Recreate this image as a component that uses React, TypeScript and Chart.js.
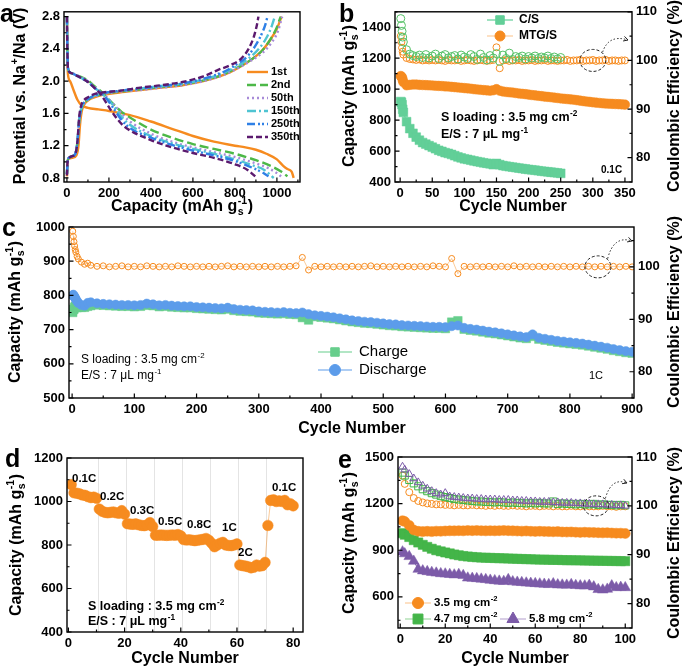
import React, { useEffect, useRef } from "react";
import { Chart, registerables } from "chart.js";
import { drawPoint } from "chart.js/helpers";

Chart.register(...registerables);
const FONT = '"Liberation Sans", Arial, Helvetica, sans-serif';
Chart.defaults.font.family = FONT;

const CW = 685;
const CH = 669;

function seq(a: number, b: number, s: number) {
  const r: number[] = [];
  for (let v = a; v <= b + 1e-9; v += s) r.push(v);
  return r;
}
const toXY = (xs: number[], ys: number[]) => xs.map((x, i) => ({ x, y: ys[i] }));

// ---------------- colours ----------------
const ORANGE = "#F68B1F";
const ORANGE_LINE = "rgba(246,139,31,0.45)";
const CS_GREEN = "#62CF98";
const CS_CE_GREEN = "#55C166";
const C_BLUE = "#5C9CEA";
const C_GREEN = "#67CE8C";
const E_GREEN = "#44B549";
const E_PURPLE = "#7C5BA8";

// ---------------- panel a : voltage profiles ----------------
const aXTicks = [0, 200, 400, 600, 800, 1000];
const aYTicks = [0.8, 1.2, 1.6, 2.0, 2.4, 2.8];
const aLabels = ["1st", "2nd", "50th", "150th", "250th", "350th"];
const aColors = ["#F68B1F", "#4DB848", "#A88BD8", "#4FC4D2", "#2F80E6", "#5B1A6E"];
const aDashes = [[], [9, 4], [2, 3], [9, 3, 2, 3], [8, 3, 2, 2, 2, 3], [6, 3]];

const dis1X = [0, 2, 5, 15, 30, 50, 70, 100, 150, 200, 300, 400, 500, 600, 700, 800, 850, 900, 950, 1000, 1030, 1050, 1070, 1080];
const dis1Y = [2.8, 2.3, 2.08, 2.0, 1.9, 1.77, 1.7, 1.67, 1.65, 1.63, 1.58, 1.5, 1.41, 1.32, 1.25, 1.2, 1.18, 1.15, 1.1, 1.03, 0.95, 0.91, 0.88, 0.8];
const dis2X = [0, 2, 5, 20, 60, 100, 130, 160, 190, 220, 260, 300, 400, 500, 600, 700, 800, 900, 970, 1020, 1050];
const dis2Y = [2.8, 2.4, 2.16, 2.1, 2.06, 2.01, 1.94, 1.88, 1.8, 1.72, 1.62, 1.55, 1.4, 1.3, 1.22, 1.16, 1.1, 1.02, 0.95, 0.88, 0.82];
const dis50X = [0, 2, 5, 20, 60, 100, 130, 160, 190, 220, 260, 300, 400, 500, 600, 700, 800, 900, 960, 1000, 1020];
const dis50Y = [2.8, 2.4, 2.16, 2.1, 2.06, 2.0, 1.93, 1.87, 1.8, 1.72, 1.6, 1.5, 1.35, 1.25, 1.18, 1.12, 1.06, 0.98, 0.92, 0.86, 0.82];
const dis150X = [0, 2, 5, 20, 60, 100, 130, 160, 190, 220, 260, 300, 400, 500, 600, 700, 800, 880, 940, 985];
const dis150Y = [2.8, 2.4, 2.16, 2.1, 2.05, 1.99, 1.92, 1.86, 1.79, 1.7, 1.56, 1.46, 1.32, 1.23, 1.16, 1.1, 1.03, 0.96, 0.9, 0.8];
const dis250X = [0, 2, 5, 20, 60, 100, 130, 160, 190, 220, 260, 300, 400, 500, 600, 700, 800, 880, 930, 960];
const dis250Y = [2.8, 2.4, 2.16, 2.1, 2.05, 1.99, 1.92, 1.86, 1.78, 1.67, 1.52, 1.42, 1.3, 1.21, 1.14, 1.08, 1.01, 0.93, 0.87, 0.82];
const dis350X = [0, 2, 5, 20, 60, 100, 130, 160, 190, 220, 260, 300, 400, 500, 600, 700, 800, 860, 905];
const dis350Y = [2.8, 2.4, 2.16, 2.1, 2.05, 1.99, 1.92, 1.84, 1.72, 1.6, 1.47, 1.39, 1.27, 1.18, 1.11, 1.05, 0.97, 0.9, 0.8];

const chg1X = [0, 3, 10, 25, 45, 55, 62, 70, 80, 100, 130, 170, 250, 350, 450, 550, 650, 750, 820, 880, 930, 970, 1000, 1022];
const chg1Y = [0.82, 1.0, 1.04, 1.05, 1.08, 1.2, 1.45, 1.62, 1.7, 1.76, 1.8, 1.83, 1.86, 1.89, 1.92, 1.95, 2.0, 2.08, 2.17, 2.27, 2.38, 2.52, 2.65, 2.8];
const chg2X = [0, 3, 10, 25, 40, 50, 58, 68, 80, 100, 130, 170, 250, 350, 450, 550, 650, 750, 820, 880, 930, 970, 1000, 1018];
const chg2Y = [0.85, 1.0, 1.05, 1.07, 1.1, 1.25, 1.5, 1.65, 1.72, 1.77, 1.81, 1.84, 1.87, 1.9, 1.93, 1.96, 2.01, 2.09, 2.18, 2.27, 2.38, 2.52, 2.67, 2.8];
const chg50X = [0, 3, 10, 25, 40, 50, 58, 68, 80, 100, 130, 170, 250, 350, 450, 550, 650, 750, 820, 880, 935, 975, 1005, 1025];
const chg50Y = [0.85, 1.0, 1.05, 1.07, 1.1, 1.25, 1.5, 1.65, 1.72, 1.77, 1.81, 1.84, 1.87, 1.89, 1.92, 1.95, 2.0, 2.08, 2.17, 2.26, 2.36, 2.48, 2.62, 2.8];
const chg150X = [0, 3, 10, 25, 40, 50, 58, 68, 80, 100, 130, 170, 250, 350, 450, 550, 650, 750, 820, 870, 920, 955, 975, 990];
const chg150Y = [0.85, 1.0, 1.05, 1.07, 1.1, 1.25, 1.5, 1.66, 1.73, 1.78, 1.82, 1.85, 1.88, 1.91, 1.94, 1.97, 2.02, 2.11, 2.2, 2.29, 2.42, 2.56, 2.68, 2.8];
const chg250X = [0, 3, 10, 25, 40, 50, 58, 68, 80, 100, 130, 170, 250, 350, 450, 550, 650, 750, 810, 860, 900, 930, 945, 955];
const chg250Y = [0.85, 1.0, 1.05, 1.07, 1.1, 1.25, 1.5, 1.66, 1.73, 1.78, 1.82, 1.85, 1.88, 1.91, 1.94, 1.97, 2.03, 2.12, 2.21, 2.31, 2.45, 2.6, 2.7, 2.8];
const chg350X = [0, 3, 10, 25, 40, 50, 58, 68, 80, 100, 130, 170, 250, 350, 450, 550, 650, 720, 780, 830, 865, 890, 905, 912];
const chg350Y = [0.83, 1.0, 1.05, 1.07, 1.1, 1.25, 1.55, 1.7, 1.76, 1.8, 1.84, 1.86, 1.88, 1.92, 1.95, 1.99, 2.06, 2.14, 2.2, 2.28, 2.4, 2.55, 2.7, 2.8];

// ---------------- panel b : 0.1C cycling ----------------
const bXTicks = [0, 50, 100, 150, 200, 250, 300, 350];
const bYTicks = [400, 600, 800, 1000, 1200, 1400];
const ceTicks = [80, 90, 100, 110];
const bCyclesMTG = [1, 2, 3, 4, ...seq(5, 350, 5)];
const bCyclesCS = [1, 2, 3, 4, ...seq(5, 250, 5)];
const bCapCS = [920, 915, 900, 870,
  850, 790, 745, 715, 690, 670, 655, 645, 635, 625,
  615, 605, 598, 590, 585, 578, 570, 562, 556, 550,
  546, 541, 536, 532, 528, 524, 521, 518, 512, 520,
  512, 506, 502, 499, 496, 493, 490, 487, 484, 481,
  479, 476, 473, 470, 468, 466, 463, 461, 459, 456];
const bCapMTG = [1085, 1080, 1075, 1060,
  1045, 1025, 1028, 1030, 1030, 1028, 1027, 1026, 1025, 1024,
  1022, 1021, 1020, 1018, 1017, 1015, 1013, 1011, 1009, 1007,
  1005, 1003, 1000, 998, 996, 994, 992, 990, 993, 1000,
  990, 985, 982, 980, 978, 975, 972, 970, 968, 965,
  962, 960, 957, 955, 952, 950, 948, 945, 943, 940,
  938, 936, 934, 932, 929, 926, 923, 920, 918, 915,
  913, 911, 909, 907, 906, 905, 904, 903, 902, 900];
const bCeCS = [108.6, 107.2, 106.0, 104.8,
  103.8, 102.2, 101.3, 101.0, 100.8, 101.1, 100.6, 101.2, 100.5, 100.9,
  101.3, 100.4, 100.9, 101.2, 100.5, 100.8, 101.0, 100.3, 101.1, 100.7,
  100.4, 101.2, 100.8, 100.2, 101.3, 100.6, 100.1, 101.0, 100.5, 101.4,
  99.8, 101.1, 100.4, 101.5, 100.2, 100.8, 100.6, 100.9, 100.3, 100.8,
  100.5, 100.9, 100.4, 100.7, 100.5, 100.9, 100.4, 100.7, 100.3, 100.6];
const bCeMTG = [105.0, 103.8, 102.6, 101.8,
  101.2, 100.5, 100.3, 100.2, 100.1, 100.2, 100.0, 100.1, 100.0, 100.1,
  100.0, 100.1, 100.0, 99.9, 100.1, 100.0, 100.0, 100.1, 99.9, 100.0,
  100.1, 100.0, 99.9, 100.0, 100.1, 100.0, 99.9, 100.0, 100.1, 102.7,
  98.4, 100.0, 100.1, 99.9, 100.0, 100.0, 100.1, 99.9, 100.0, 100.0,
  100.1, 99.9, 100.0, 100.0, 100.1, 99.9, 100.0, 100.0, 99.9, 100.0,
  100.0, 100.1, 99.9, 100.0, 100.0, 100.1, 99.9, 100.0, 100.0, 100.1,
  99.9, 100.0, 100.0, 100.1, 99.9, 100.0, 100.0, 99.9, 100.0, 100.0];

// ---------------- panel c : 1C long cycling ----------------
const cXTicks = [0, 100, 200, 300, 400, 500, 600, 700, 800, 900];
const cYTicks = [500, 600, 700, 800, 900, 1000];
const cCeTicks = [80, 90, 100];
const cCycles = [1, 2, 3, 4, 5, 6, 8, 10, 15, 20, 25, 30, ...seq(40, 900, 10)];
const cDischarge = [800, 802, 798, 795, 792, 788, 783, 778, 772, 770, 778, 780,
  777, 775, 774, 773, 772, 772, 771, 772, 776, 774,
  771, 772, 770, 769, 768, 768, 766, 765, 764, 763,
  762, 764, 760, 758, 757, 756, 753, 752, 751, 750,
  751, 749, 748, 750, 745, 742, 740, 738, 736, 733,
  730, 727, 725, 723, 722, 720, 718, 716, 715, 713,
  712, 711, 710, 709, 708, 708, 707, 710, 712, 705,
  702, 700, 697, 694, 692, 689, 686, 683, 680, 678,
  686, 676, 673, 670, 667, 665, 663, 661, 659, 656,
  653, 650, 647, 643, 640, 637, 635];
const cCharge = [750, 758, 760, 765, 768, 766, 764, 766, 765, 765, 768, 770,
  772, 771, 770, 769, 768, 768, 767, 768, 771, 770,
  767, 768, 766, 765, 764, 764, 762, 761, 760, 759,
  758, 760, 756, 754, 753, 752, 749, 748, 747, 746,
  747, 745, 744, 735, 728, 738, 736, 734, 732, 729,
  726, 723, 721, 719, 718, 716, 714, 712, 711, 709,
  708, 707, 706, 705, 704, 704, 703, 722, 726, 701,
  698, 696, 693, 690, 688, 685, 682, 679, 676, 674,
  680, 672, 669, 666, 663, 661, 659, 657, 655, 652,
  649, 646, 643, 639, 636, 633, 631];
const cCe = [106.8, 105.8, 104.8, 104.0, 103.3, 102.8, 102.0, 101.5, 100.9, 100.5, 100.7, 100.3,
  100.1, 100.2, 100.0, 100.1, 100.2, 100.0, 100.1, 100.0, 100.2, 100.1,
  100.0, 100.1, 100.0, 100.2, 100.1, 100.0, 100.1, 100.0, 100.1, 100.0,
  100.1, 100.2, 100.0, 100.1, 100.0, 100.1, 100.0, 100.1, 100.0, 100.1,
  100.0, 100.1, 100.2, 101.8, 99.4, 100.1, 100.0, 100.1, 100.0, 100.1,
  100.0, 100.1, 100.0, 100.1, 100.2, 100.0, 100.1, 100.0, 100.1, 100.0,
  100.1, 100.0, 100.1, 100.0, 100.2, 100.1, 100.0, 101.6, 98.7, 100.1,
  100.0, 100.1, 100.0, 100.1, 100.0, 100.1, 100.0, 100.2, 100.0, 100.1,
  100.0, 100.1, 100.0, 100.1, 100.0, 100.1, 100.0, 100.1, 100.0, 100.1,
  100.0, 100.1, 100.0, 100.1, 100.0, 100.1, 100.0];

// ---------------- panel d : rate capability ----------------
const dXTicks = [0, 20, 40, 60, 80];
const dYTicks = [400, 600, 800, 1000, 1200];
const dCycles = seq(1, 80, 1);
const dCap = [1078, 1040, 1038, 1035, 1030, 1028, 1022, 1018, 1020, 1015,
  965, 955, 950, 948, 950, 952, 948, 946, 958, 942,
  898, 896, 895, 897, 893, 890, 889, 892, 903, 885,
  845, 845, 846, 845, 844, 845, 846, 845, 848, 842,
  825, 823, 824, 822, 820, 822, 824, 826, 830, 822,
  808, 792, 800, 808, 812, 800, 798, 797, 800, 805,
  708, 705, 703, 700, 695, 698, 708, 703, 705, 720,
  890, 1005, 1008, 1000, 1003, 1000, 1005, 985, 990, 980];
const dRates = ["0.1C", "0.2C", "0.3C", "0.5C", "0.8C", "1C", "2C", "0.1C"];
const dDividers = [10.5, 20.5, 30.5, 40.5, 50.5, 60.5, 70.5];

// ---------------- panel e : sulfur loading ----------------
const eXTicks = [0, 20, 40, 60, 80, 100];
const eYTicks = [600, 900, 1200, 1500];
const eCycles = [1, 2, ...seq(4, 100, 2)];
const eLoadings = ["3.5 mg cm", "4.7 mg cm", "5.8 mg cm"];
const eCap35 = [1090, 1085, 1060, 1030, 1022, 1020, 1022, 1020, 1023, 1022,
  1024, 1025, 1025, 1026, 1025, 1027, 1026, 1027, 1026, 1025,
  1026, 1025, 1026, 1027, 1026, 1025, 1024, 1023, 1024, 1022,
  1021, 1022, 1021, 1020, 1019, 1020, 1018, 1017, 1018, 1016,
  1015, 1016, 1015, 1014, 1013, 1012, 1013, 1011, 1010, 1010, 1008];
const eCap47 = [1010, 1000, 985, 965, 950, 935, 922, 910, 900, 893,
  886, 880, 873, 868, 863, 860, 857, 855, 853, 852,
  851, 850, 849, 848, 847, 846, 845, 844, 843, 842,
  841, 840, 840, 839, 838, 838, 837, 836, 836, 835,
  835, 834, 834, 833, 833, 832, 832, 831, 831, 830, 830];
const eCap58 = [890, 878, 860, 830, 778, 768, 763, 758, 754, 750,
  748, 745, 742, 745, 738, 722, 720, 718, 715, 712,
  708, 705, 702, 700, 712, 698, 695, 693, 690, 688,
  686, 684, 682, 680, 685, 678, 677, 676, 680, 674,
  672, 671, 675, 665, 648, 645, 650, 672, 660, 662, 660];
const eCe35 = [106.2, 104.5, 102.8, 101.6, 101.0, 100.7, 100.5, 100.4, 100.3, 100.3,
  100.2, 100.2, 100.1, 100.2, 100.1, 100.1, 100.2, 100.1, 100.1, 100.0,
  100.1, 100.0, 100.1, 100.0, 100.0, 100.1, 100.0, 100.0, 99.9, 100.0,
  100.0, 99.9, 100.0, 100.0, 99.9, 100.0, 99.9, 99.9, 100.0, 99.9,
  99.9, 100.0, 99.9, 99.9, 99.9, 100.0, 99.9, 99.9, 99.8, 99.9, 99.9];
const eCe47 = [106.8, 106.2, 105.3, 104.6, 104.0, 103.4, 103.0, 102.6, 102.3, 102.0,
  101.8, 101.6, 101.4, 101.3, 101.2, 101.1, 101.0, 100.9, 100.9, 100.8,
  100.8, 100.7, 100.8, 100.7, 100.6, 100.7, 100.6, 100.6, 100.5, 100.6,
  100.5, 100.6, 100.5, 100.5, 100.9, 100.4, 100.5, 100.4, 100.4, 100.3,
  100.4, 100.3, 100.3, 100.4, 100.2, 100.3, 100.2, 100.2, 100.1, 100.2, 100.1];
const eCe58 = [108.0, 107.4, 106.5, 105.6, 104.8, 104.1, 103.5, 103.0, 102.6, 102.3,
  102.6, 101.9, 101.8, 101.7, 101.6, 101.5, 101.5, 101.4, 101.4, 101.3,
  101.3, 101.3, 101.2, 101.2, 101.2, 101.1, 101.1, 101.0, 101.0, 100.9,
  100.9, 100.8, 100.8, 100.8, 100.7, 100.7, 100.6, 100.6, 100.6, 100.5,
  100.5, 100.4, 100.4, 100.3, 100.3, 100.3, 100.2, 100.2, 100.1, 100.1, 100.0];

// ---------------- drawing helpers ----------------
type Part = [string, string?, string?];
const fnt = (size: number, weight: string) => `${weight} ${size}px ${FONT}`;

function partsWidth(ctx: CanvasRenderingContext2D, parts: Part[], size: number, weight: string) {
  let w = 0;
  for (const p of parts) {
    if (!p[1]) {
      ctx.font = fnt(size, weight);
      w += ctx.measureText(p[0]).width;
    } else if (p[1] === "ss") {
      ctx.font = fnt(size * 0.66, weight);
      w += Math.max(ctx.measureText(p[0]).width, ctx.measureText(p[2] || "").width) + 1;
    } else {
      ctx.font = fnt(size * 0.66, weight);
      w += ctx.measureText(p[0]).width + 0.5;
    }
  }
  return w;
}

function drawRich(ctx: CanvasRenderingContext2D, parts: Part[], x: number, y: number, size: number,
  weight = "bold", align = "left", rot = 0, color = "#000") {
  ctx.save();
  ctx.translate(x, y);
  if (rot) ctx.rotate(rot);
  const w = partsWidth(ctx, parts, size, weight);
  let cx = align === "center" ? -w / 2 : align === "right" ? -w : 0;
  ctx.fillStyle = color;
  ctx.textBaseline = "middle";
  ctx.textAlign = "left";
  for (const p of parts) {
    if (!p[1]) {
      ctx.font = fnt(size, weight);
      ctx.fillText(p[0], cx, 0);
      cx += ctx.measureText(p[0]).width;
    } else if (p[1] === "ss") {
      ctx.font = fnt(size * 0.66, weight);
      ctx.fillText(p[0], cx + 0.5, size * 0.32);
      ctx.fillText(p[2] || "", cx + 0.5, -size * 0.36);
      cx += Math.max(ctx.measureText(p[0]).width, ctx.measureText(p[2] || "").width) + 1;
    } else {
      ctx.font = fnt(size * 0.66, weight);
      const dy = p[1] === "sup" ? -size * 0.36 : size * 0.32;
      ctx.fillText(p[0], cx + 0.5, dy);
      cx += ctx.measureText(p[0]).width + 0.5;
    }
  }
  ctx.restore();
}

function txt(ctx: CanvasRenderingContext2D, s: string, x: number, y: number, size: number, weight = "bold", align: CanvasTextAlign = "left") {
  ctx.font = fnt(size, weight);
  ctx.fillStyle = "#000";
  ctx.textAlign = align;
  ctx.textBaseline = "middle";
  ctx.fillText(s, x, y);
}

function letter(ctx: CanvasRenderingContext2D, s: string, x: number, y: number) {
  ctx.font = fnt(25, "bold");
  ctx.fillStyle = "#000";
  ctx.textAlign = "left";
  ctx.textBaseline = "alphabetic";
  ctx.fillText(s, x, y);
}

function legendMark(ctx: CanvasRenderingContext2D, x1: number, x2: number, y: number, color: string, lineColor: string | null, style: string, r: number) {
  if (lineColor) {
    ctx.save();
    ctx.strokeStyle = lineColor;
    ctx.lineWidth = 1.2;
    ctx.setLineDash([]);
    ctx.beginPath();
    ctx.moveTo(x1, y);
    ctx.lineTo(x2, y);
    ctx.stroke();
    ctx.restore();
  }
  ctx.save();
  ctx.fillStyle = color;
  ctx.strokeStyle = color;
  ctx.lineWidth = 1;
  drawPoint(ctx, { pointStyle: style as any, radius: r, borderWidth: 1, rotation: 0 } as any, (x1 + x2) / 2, y);
  ctx.restore();
}

function ellipseArrow(ctx: CanvasRenderingContext2D, cx: number, cy: number, rx: number, ry: number, ex: number, ey: number) {
  ctx.save();
  ctx.strokeStyle = "#222";
  ctx.lineWidth = 1;
  ctx.setLineDash([3, 2]);
  ctx.beginPath();
  ctx.ellipse(cx, cy, rx, ry, 0, 0, Math.PI * 2);
  ctx.stroke();
  const sx = cx + rx * 0.75, sy = cy - ry * 0.75;
  const qx = sx + 6, qy = ey - 6;
  ctx.setLineDash([1.5, 2]);
  ctx.beginPath();
  ctx.moveTo(sx, sy);
  ctx.quadraticCurveTo(qx, qy, ex, ey);
  ctx.stroke();
  ctx.setLineDash([]);
  const ang = Math.atan2(ey - qy, ex - qx);
  ctx.beginPath();
  ctx.moveTo(ex, ey);
  ctx.lineTo(ex - 5 * Math.cos(ang - 0.5), ey - 5 * Math.sin(ang - 0.5));
  ctx.moveTo(ex, ey);
  ctx.lineTo(ex - 5 * Math.cos(ang + 0.5), ey - 5 * Math.sin(ang + 0.5));
  ctx.stroke();
  ctx.restore();
}

function drawInnerTicks(chart: any) {
  const ctx: CanvasRenderingContext2D = chart.ctx;
  const a = chart.chartArea;
  ctx.save();
  ctx.strokeStyle = "#000";
  ctx.lineWidth = 1.2;
  ctx.setLineDash([]);
  for (const id of ["x", "y", "y2"]) {
    const s = chart.scales[id];
    if (!s) continue;
    const vals: number[] = s.ticks.map((t: any) => t.value);
    const step = vals.length > 1 ? vals[1] - vals[0] : 0;
    const marks: [number, number][] = vals.map((v) => [v, 4.5]);
    if (step) {
      for (let v = vals[0] - step / 2; v <= s.max; v += step) if (v >= s.min) marks.push([v, 2.5]);
    }
    ctx.beginPath();
    for (const [v, len] of marks) {
      const p = s.getPixelForValue(v);
      if (id === "x") {
        ctx.moveTo(p, a.bottom);
        ctx.lineTo(p, a.bottom - len);
      } else if (id === "y") {
        ctx.moveTo(a.left, p);
        ctx.lineTo(a.left + len, p);
      } else {
        ctx.moveTo(a.right, p);
        ctx.lineTo(a.right - len, p);
      }
    }
    ctx.stroke();
  }
  ctx.restore();
}

function decoPlugin(draw: (chart: any, ctx: CanvasRenderingContext2D) => void, before?: (chart: any, ctx: CanvasRenderingContext2D) => void) {
  return {
    id: "deco",
    beforeDatasetsDraw(chart: any) {
      if (before) {
        chart.ctx.save();
        before(chart, chart.ctx);
        chart.ctx.restore();
      }
    },
    afterDraw(chart: any) {
      const ctx: CanvasRenderingContext2D = chart.ctx;
      const a = chart.chartArea;
      drawInnerTicks(chart);
      ctx.save();
      ctx.strokeStyle = "#000";
      ctx.lineWidth = 1.4;
      ctx.setLineDash([]);
      ctx.strokeRect(a.left, a.top, a.right - a.left, a.bottom - a.top);
      ctx.restore();
      ctx.save();
      draw(chart, ctx);
      ctx.restore();
    },
  };
}

type Ax = { min: number; max: number; ticks: number[]; fmt: (v: number) => string };
type Area = { L: number; T: number; R: number; B: number };
const YW = 50, Y2W = 45, XH = 30;
const fInt = (v: number) => String(Math.round(v));
const f1 = (v: number) => v.toFixed(1);

function mkScale(axis: "x" | "y", position: string, ax: Ax, size: number) {
  return {
    type: "linear",
    axis,
    position,
    min: ax.min,
    max: ax.max,
    grid: { display: false, drawTicks: false },
    border: { display: false },
    ticks: {
      font: { family: FONT, size: 13, weight: "bold" },
      color: "#000",
      padding: 4,
      autoSkip: false,
      maxRotation: 0,
      minRotation: 0,
      callback: (v: any) => ax.fmt(Number(v)),
    },
    afterBuildTicks: (s: any) => {
      s.ticks = ax.ticks.map((v) => ({ value: v }));
    },
    afterFit: (s: any) => {
      if (axis === "x") s.height = size;
      else s.width = size;
    },
  };
}

function makeConfig(area: Area, x: Ax, y: Ax, y2: Ax | null, datasets: any[],
  draw: (chart: any, ctx: CanvasRenderingContext2D) => void, before?: (chart: any, ctx: CanvasRenderingContext2D) => void): any {
  const scales: any = { x: mkScale("x", "bottom", x, XH), y: mkScale("y", "left", y, YW) };
  if (y2) scales.y2 = mkScale("y", "right", y2, Y2W);
  return {
    type: "scatter",
    data: { datasets },
    options: {
      responsive: false,
      animation: false,
      devicePixelRatio: 1,
      events: [],
      layout: {
        padding: { left: area.L - YW, top: area.T, right: CW - area.R - (y2 ? Y2W : 0), bottom: CH - area.B - XH },
      },
      plugins: { legend: { display: false }, tooltip: { enabled: false } },
      scales,
    },
    plugins: [decoPlugin(draw, before)],
  };
}

function lineDS(xs: number[], ys: number[], color: string, dash: number[]) {
  return {
    data: toXY(xs, ys), showLine: true, borderColor: color, borderWidth: 2.4, borderDash: dash,
    pointRadius: 0, cubicInterpolationMode: "monotone", fill: false, xAxisID: "x", yAxisID: "y",
  };
}

function markDS(xs: number[], ys: number[], color: string, style: string, r: number, opt: { hollow?: boolean; line?: string; axis?: string } = {}) {
  return {
    data: toXY(xs, ys),
    showLine: !!opt.line,
    borderColor: opt.line || color,
    borderWidth: opt.line ? 1 : 0,
    pointStyle: style,
    pointRadius: r,
    pointBackgroundColor: opt.hollow ? "rgba(255,255,255,0)" : color,
    pointBorderColor: color,
    pointBorderWidth: opt.hollow ? 1 : 0.5,
    xAxisID: "x",
    yAxisID: opt.axis || "y",
  };
}

const capTitle: Part[] = [["Capacity (mAh g"], ["s", "ss", "-1"], [")"]];
const sLoad: Part[] = [["S loading : 3.5 mg cm"], ["-2", "sup"]];
const esRatio: Part[] = [["E/S : 7 \u03bcL mg"], ["-1", "sup"]];
const ROT = -Math.PI / 2;

// ---------------- configs ----------------
function configA() {
  const dis = [[dis1X, dis1Y], [dis2X, dis2Y], [dis50X, dis50Y], [dis150X, dis150Y], [dis250X, dis250Y], [dis350X, dis350Y]];
  const chg = [[chg1X, chg1Y], [chg2X, chg2Y], [chg50X, chg50Y], [chg150X, chg150Y], [chg250X, chg250Y], [chg350X, chg350Y]];
  const ds: any[] = [];
  for (let i = 5; i >= 0; i--) {
    ds.push(lineDS(dis[i][0], dis[i][1], aColors[i], aDashes[i]));
    ds.push(lineDS(chg[i][0], chg[i][1], aColors[i], aDashes[i]));
  }
  return makeConfig({ L: 64, T: 10, R: 300, B: 182 },
    { min: -14, max: 1110, ticks: aXTicks, fmt: fInt },
    { min: 0.75, max: 2.86, ticks: aYTicks, fmt: f1 }, null, ds,
    (chart, ctx) => {
      letter(ctx, "a", 0, 22);
      drawRich(ctx, [["Potential vs. Na"], ["+", "sup"], ["/Na (V)"]], 21, 96, 16, "bold", "center", ROT);
      drawRich(ctx, capTitle, 182, 207, 16, "bold", "center");
      aLabels.forEach((lab, i) => {
        const y = 72 + i * 13;
        ctx.save();
        ctx.strokeStyle = aColors[i];
        ctx.lineWidth = 2.4;
        ctx.setLineDash(aDashes[i]);
        ctx.beginPath();
        ctx.moveTo(247, y);
        ctx.lineTo(268, y);
        ctx.stroke();
        ctx.restore();
        txt(ctx, lab, 271, y, 11, "bold");
      });
    });
}

function configB() {
  const ds = [
    markDS(bCyclesCS, bCeCS, CS_CE_GREEN, "circle", 4, { hollow: true, axis: "y2" }),
    markDS(bCyclesMTG, bCeMTG, ORANGE, "circle", 3.5, { hollow: true, axis: "y2" }),
    markDS(bCyclesMTG, bCapMTG, ORANGE, "circle", 4.8, { line: ORANGE_LINE }),
    markDS(bCyclesCS, bCapCS, CS_GREEN, "rect", 6.2, { line: CS_GREEN }),
  ];
  return makeConfig({ L: 395, T: 10, R: 632, B: 182 },
    { min: -8, max: 361, ticks: bXTicks, fmt: fInt },
    { min: 400, max: 1500, ticks: bYTicks, fmt: fInt },
    { min: 75, max: 110, ticks: ceTicks, fmt: fInt }, ds,
    (chart, ctx) => {
      letter(ctx, "b", 339, 22);
      drawRich(ctx, capTitle, 350, 96, 16, "bold", "center", ROT);
      drawRich(ctx, [["Coulombic Efficiency (%)"]], 675, 96, 16, "bold", "center", ROT);
      drawRich(ctx, [["Cycle Number"]], 513, 207, 16, "bold", "center");
      legendMark(ctx, 487, 513, 20, CS_GREEN, CS_GREEN, "rect", 6);
      txt(ctx, "C/S", 519, 20, 12, "bold");
      legendMark(ctx, 487, 513, 36, ORANGE, ORANGE_LINE, "circle", 5);
      txt(ctx, "MTG/S", 519, 36, 12, "bold");
      drawRich(ctx, sLoad, 441, 118, 12.5, "bold", "left");
      drawRich(ctx, esRatio, 441, 135, 12.5, "bold", "left");
      txt(ctx, "0.1C", 601, 170, 10, "bold");
      const px = chart.scales.x.getPixelForValue(300);
      const py = chart.scales.y2.getPixelForValue(100);
      ellipseArrow(ctx, px, py, 13, 11, 628, 40);
    });
}

function configC() {
  const ds = [
    markDS(cCycles, cCe, ORANGE, "circle", 3, { hollow: true, axis: "y2", line: ORANGE_LINE }),
    markDS(cCycles, cDischarge, C_BLUE, "circle", 4.6, { line: C_BLUE }),
    markDS(cCycles, cCharge, C_GREEN, "rect", 6, { line: C_GREEN }),
  ];
  return makeConfig({ L: 69, T: 227, R: 634, B: 398 },
    { min: -5, max: 903, ticks: cXTicks, fmt: fInt },
    { min: 500, max: 1000, ticks: cYTicks, fmt: fInt },
    { min: 75, max: 107.6, ticks: cCeTicks, fmt: fInt }, ds,
    (chart, ctx) => {
      letter(ctx, "c", 2, 236);
      drawRich(ctx, capTitle, 16, 312, 16, "bold", "center", ROT);
      drawRich(ctx, [["Coulombic Efficiency (%)"]], 675, 312, 16, "bold", "center", ROT);
      drawRich(ctx, [["Cycle Number"]], 352, 429, 16, "bold", "center");
      legendMark(ctx, 318, 352, 352, C_GREEN, C_GREEN, "rect", 6);
      txt(ctx, "Charge", 359, 352, 15, "normal");
      legendMark(ctx, 318, 352, 370, C_BLUE, C_BLUE, "circle", 5.5);
      txt(ctx, "Discharge", 359, 370, 15, "normal");
      drawRich(ctx, sLoad, 81, 360, 12, "normal", "left");
      drawRich(ctx, esRatio, 81, 376, 12, "normal", "left");
      txt(ctx, "1C", 589, 376, 11, "normal");
      const px = chart.scales.x.getPixelForValue(845);
      const py = chart.scales.y2.getPixelForValue(100);
      ellipseArrow(ctx, px, py, 13, 11, 632, 241);
    });
}

function configD() {
  const ds = [markDS(dCycles, dCap, ORANGE, "circle", 5.3, { line: ORANGE_LINE })];
  const rateLabelPos: [number, number][] = [[72, 479], [100, 497], [130, 511], [158, 522], [187, 525], [222, 528], [238, 553], [272, 488]];
  return makeConfig({ L: 67, T: 458, R: 303, B: 632 },
    { min: -0.5, max: 83.5, ticks: dXTicks, fmt: fInt },
    { min: 400, max: 1200, ticks: dYTicks, fmt: fInt }, null, ds,
    (chart, ctx) => {
      letter(ctx, "d", 5, 467);
      drawRich(ctx, capTitle, 17, 545, 16, "bold", "center", ROT);
      drawRich(ctx, [["Cycle Number"]], 185, 659, 16, "bold", "center");
      dRates.forEach((r, i) => txt(ctx, r, rateLabelPos[i][0], rateLabelPos[i][1], 11.5, "bold"));
      drawRich(ctx, sLoad, 88, 607, 12.5, "bold", "left");
      drawRich(ctx, esRatio, 88, 622, 12.5, "bold", "left");
    },
    (chart, ctx) => {
      const a = chart.chartArea;
      ctx.strokeStyle = "#e4e4e4";
      ctx.lineWidth = 1;
      ctx.beginPath();
      for (const c of dDividers) {
        const p = Math.round(chart.scales.x.getPixelForValue(c)) + 0.5;
        ctx.moveTo(p, a.top);
        ctx.lineTo(p, a.bottom);
      }
      ctx.stroke();
    });
}

function configE() {
  const ds = [
    markDS(eCycles, eCe58, E_PURPLE, "triangle", 4.5, { hollow: true, axis: "y2" }),
    markDS(eCycles, eCe47, E_GREEN, "rect", 5, { hollow: true, axis: "y2" }),
    markDS(eCycles, eCe35, ORANGE, "circle", 3.5, { hollow: true, axis: "y2" }),
    markDS(eCycles, eCap35, ORANGE, "circle", 5, { line: ORANGE }),
    markDS(eCycles, eCap47, E_GREEN, "rect", 6.5, { line: E_GREEN }),
    markDS(eCycles, eCap58, E_PURPLE, "triangle", 6.2, { line: E_PURPLE }),
  ];
  return makeConfig({ L: 398, T: 457, R: 632, B: 628 },
    { min: -1, max: 103, ticks: eXTicks, fmt: fInt },
    { min: 400, max: 1500, ticks: eYTicks, fmt: fInt },
    { min: 75, max: 110, ticks: ceTicks, fmt: fInt }, ds,
    (chart, ctx) => {
      letter(ctx, "e", 338, 468);
      drawRich(ctx, capTitle, 350, 543, 16, "bold", "center", ROT);
      drawRich(ctx, [["Coulombic Efficiency (%)"]], 675, 543, 16, "bold", "center", ROT);
      drawRich(ctx, [["Cycle Number"]], 515, 659, 16, "bold", "center");
      legendMark(ctx, 405, 431, 603, ORANGE, ORANGE_LINE, "circle", 5.5);
      drawRich(ctx, [[eLoadings[0]], ["-2", "sup"]], 434, 603, 11.5, "bold", "left");
      legendMark(ctx, 405, 431, 619, E_GREEN, "rgba(68,181,73,0.5)", "rect", 7);
      drawRich(ctx, [[eLoadings[1]], ["-2", "sup"]], 434, 619, 11.5, "bold", "left");
      legendMark(ctx, 500, 526, 619, E_PURPLE, "rgba(124,91,168,0.5)", "triangle", 7);
      drawRich(ctx, [[eLoadings[2]], ["-2", "sup"]], 529, 619, 11.5, "bold", "left");
      const px = chart.scales.x.getPixelForValue(87);
      const py = chart.scales.y2.getPixelForValue(100);
      ellipseArrow(ctx, px, py, 12.5, 10, 627, 483);
    });
}

function Panel({ make }: { make: () => any }) {
  const ref = useRef<HTMLCanvasElement>(null);
  useEffect(() => {
    const chart = new Chart(ref.current as HTMLCanvasElement, make());
    return () => chart.destroy();
  }, []);
  return (
    <canvas ref={ref} width={CW} height={CH}
      style={{ position: "absolute", left: 0, top: 0, width: CW, height: CH }} />
  );
}

export default function App() {
  return (
    <div style={{ position: "absolute", left: 0, top: 0, width: CW, height: CH, background: "#fff", overflow: "hidden" }}>
      <Panel make={configA} />
      <Panel make={configB} />
      <Panel make={configC} />
      <Panel make={configD} />
      <Panel make={configE} />
    </div>
  );
}
